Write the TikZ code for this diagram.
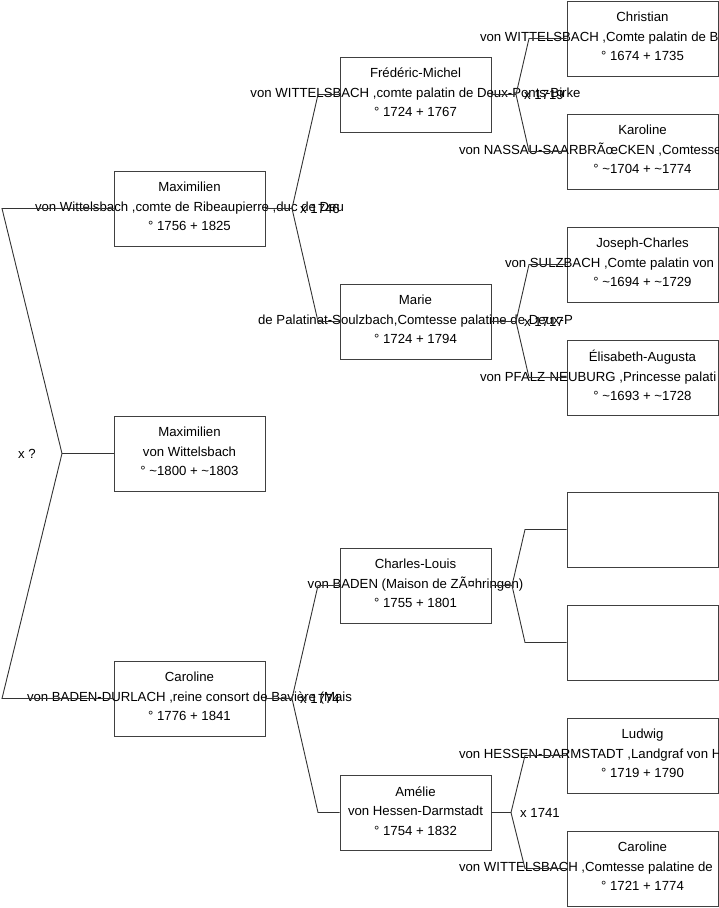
\documentclass[tikz,border=0pt]{standalone}
\usepackage{fontspec}
\setmainfont{Liberation Sans}
\usetikzlibrary{positioning}

\begin{document}
\begin{tikzpicture}[
    x=1pt, y=-1pt,
    pbox/.style={draw=black!75, line width=0.9pt, minimum width=151pt, minimum height=75pt, inner sep=0pt},
    ptxt/.style={align=center, inner sep=0pt, yshift=1.8pt, font=\fontsize{13.2}{19.5}\selectfont},
    link/.style={draw=black!80, line width=0.9pt},
    wed/.style={inner sep=0pt, font=\fontsize{13.2}{19.5}\selectfont},
]
% Page frame
\clip (0,0) rectangle (719,908);
\useasboundingbox (0,0) rectangle (719,908);

% Generation 1
\node[pbox] (maxi) at (189.5,208.5) {};
\node[pbox] (kid) at (189.5,453.5) {};
\node[pbox] (caro) at (189.5,698.5) {};

% Generation 2
\node[pbox] (fred) at (415.5,94.5) {};
\node[pbox] (marie) at (415.5,321.5) {};
\node[pbox] (charles) at (415.5,585.5) {};
\node[pbox] (amelie) at (415.5,812.5) {};

% Generation 3
\node[pbox] (christian) at (642.5,38.5) {};
\node[pbox] (karoline) at (642.5,151.5) {};
\node[pbox] (joseph) at (642.5,264.5) {};
\node[pbox] (elisa) at (642.5,377.5) {};
\node[pbox] (emptya) at (642.5,529.5) {};
\node[pbox] (emptyb) at (642.5,642.5) {};
\node[pbox] (ludwig) at (642.5,755.5) {};
\node[pbox] (carow) at (642.5,868.5) {};

% Texts
\node[ptxt] (maxi-t) at (maxi) {Maximilien\\von Wittelsbach ,comte de Ribeaupierre ,duc de Deu\\° 1756 + 1825};
\node[ptxt] (kid-t) at (kid) {Maximilien\\von Wittelsbach\\° \textasciitilde1800 + \textasciitilde1803};
\node[ptxt] (caro-t) at (caro) {Caroline\\von BADEN-DURLACH ,reine consort de Bavière (Mais\\° 1776 + 1841};
\node[ptxt] (fred-t) at (fred) {Frédéric-Michel\\von WITTELSBACH ,comte palatin de Deux-Ponts-Birke\\° 1724 + 1767};
\node[ptxt] (marie-t) at (marie) {Marie\\de Palatinat-Soulzbach,Comtesse palatine de Deux-P\\° 1724 + 1794};
\node[ptxt] (charles-t) at (charles) {Charles-Louis\\von BADEN (Maison de ZÃ¤hringen)\\° 1755 + 1801};
\node[ptxt] (amelie-t) at (amelie) {Amélie\\von Hessen-Darmstadt\\° 1754 + 1832};
\node[ptxt] (christian-t) at (christian) {Christian\\\makebox[325pt][l]{von WITTELSBACH ,Comte palatin de B}\\° 1674 + 1735};
\node[ptxt] (karoline-t) at (karoline) {Karoline\\\makebox[367pt][l]{von NASSAU-SAARBRÃœCKEN ,Comtesse}\\° \textasciitilde1704 + \textasciitilde1774};
\node[ptxt] (joseph-t) at (joseph) {Joseph-Charles\\\makebox[275pt][l]{von SULZBACH ,Comte palatin von}\\° \textasciitilde1694 + \textasciitilde1729};
\node[ptxt] (elisa-t) at (elisa) {Élisabeth-Augusta\\\makebox[325pt][l]{von PFALZ-NEUBURG ,Princesse palati}\\° \textasciitilde1693 + \textasciitilde1728};
\node[ptxt] (ludwig-t) at (ludwig) {Ludwig\\\makebox[367pt][l]{von HESSEN-DARMSTADT ,Landgraf von H}\\° 1719 + 1790};
\node[ptxt] (carow-t) at (carow) {Caroline\\\makebox[367pt][l]{von WITTELSBACH ,Comtesse palatine de}\\° 1721 + 1774};

% Fork points
\coordinate (f0) at (62,453.5);
\coordinate (f0a) at (2,208.5);
\coordinate (f0b) at (2,698.5);
\coordinate (f1) at (292,208.5);
\coordinate (f1a) at (318,94.5);
\coordinate (f1b) at (318,321.5);
\coordinate (f2) at (292,698.5);
\coordinate (f2a) at (318,585.5);
\coordinate (f2b) at (318,812.5);
\coordinate (f3) at (516,94.5);
\coordinate (f3a) at (529,38.5);
\coordinate (f3b) at (529,151.5);
\coordinate (f4) at (516,321.5);
\coordinate (f4a) at (529,264.5);
\coordinate (f4b) at (529,377.5);
\coordinate (f5) at (512,585.5);
\coordinate (f5a) at (525,529.5);
\coordinate (f5b) at (525,642.5);
\coordinate (f6) at (511,812.5);
\coordinate (f6a) at (525,755.5);
\coordinate (f6b) at (525,868.5);

% Connectors
\draw[link] (maxi.west) -- (f0a) -- (f0) -- (f0b) -- (caro.west);
\draw[link] (kid.west) -- (f0);
\draw[link] (fred.west) -- (f1a) -- (f1) -- (f1b) -- (marie.west);
\draw[link] (maxi.east) -- (f1);
\draw[link] (charles.west) -- (f2a) -- (f2) -- (f2b) -- (amelie.west);
\draw[link] (caro.east) -- (f2);
\draw[link] (christian.west) -- (f3a) -- (f3) -- (f3b) -- (karoline.west);
\draw[link] (fred.east) -- (f3);
\draw[link] (joseph.west) -- (f4a) -- (f4) -- (f4b) -- (elisa.west);
\draw[link] (marie.east) -- (f4);
\draw[link] (emptya.west) -- (f5a) -- (f5) -- (f5b) -- (emptyb.west);
\draw[link] (charles.east) -- (f5);
\draw[link] (ludwig.west) -- (f6a) -- (f6) -- (f6b) -- (carow.west);
\draw[link] (amelie.east) -- (f6);

% Marriages
\node[wed, left=26pt of f0] (w0) {x ?};
\node[wed, right=8pt of f1] (w1) {x 1746};
\node[wed, right=8pt of f2] (w2) {x 1774};
\node[wed, right=8pt of f3] (w3) {x 1719};
\node[wed, right=8pt of f4] (w4) {x 1717};
\node[wed, right=9pt of f6] (w6) {x 1741};
\end{tikzpicture}
\end{document}
